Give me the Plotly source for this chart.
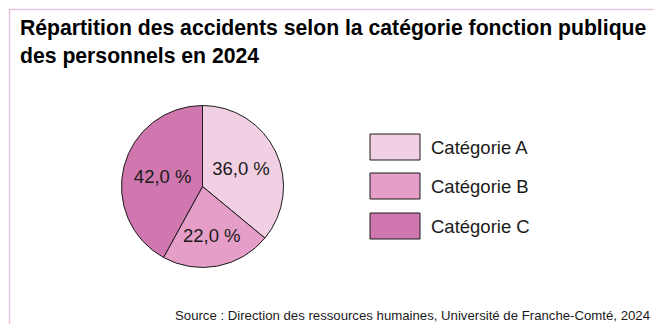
import plotly.graph_objects as go

categories = ["Catégorie A", "Catégorie B", "Catégorie C"]
values = [36.0, 22.0, 42.0]
colors = ["#f2d0e4", "#e59ec8", "#d077b0"]

title_text = "<b>Répartition des accidents selon la catégorie fonction publique<br>des personnels en 2024</b>"
source_text = "Source : Direction des ressources humaines, Université de Franche-Comté, 2024"

W, H = 654, 324
FONT = "Liberation Sans, Arial, sans-serif"

labels_txt = [f"{v:.1f} %".replace(".", ",") for v in values]

cx, cy, r = 202.5, 186.5, 81
fig = go.Figure(go.Pie(
    labels=categories, values=values, text=labels_txt, textinfo="text",
    sort=False, direction="clockwise", rotation=0,
    marker=dict(colors=colors, line=dict(color="#1a1a1a", width=1)),
    textfont=dict(family=FONT, size=18.5, color="#1a1a1a"),
    insidetextorientation="horizontal", textposition="inside",
    domain=dict(x=[(cx - r) / W, (cx + r) / W], y=[(H - cy - r) / H, (H - cy + r) / H]),
    showlegend=False, hoverinfo="label+percent",
))

shapes = [dict(type="rect", xref="paper", yref="paper",
               x0=9.5 / W, x1=1.05, y0=-0.05, y1=1 - 9.5 / H,
               line=dict(color="#e6c6df", width=1.5), fillcolor="rgba(0,0,0,0)", layer="below")]
annotations = []
leg_y = [147, 186, 226]
for cat, col, yy in zip(categories, colors, leg_y):
    shapes.append(dict(type="rect", xref="paper", yref="paper",
                       x0=370 / W, x1=420 / W, y0=(H - yy - 13) / H, y1=(H - yy + 13) / H,
                       fillcolor=col, line=dict(color="#1a1a1a", width=1)))
    annotations.append(dict(text=cat, xref="paper", yref="paper", x=429 / W, y=(H - yy) / H,
                            xanchor="left", yanchor="middle", showarrow=False,
                            font=dict(family=FONT, size=18.5, color="#1a1a1a")))

annotations.append(dict(text=title_text, xref="paper", yref="paper", x=18 / W, y=1 - 14 / H,
                        xanchor="left", yanchor="top", align="left", showarrow=False,
                        font=dict(family=FONT, size=21.2, color="#000000")))
annotations.append(dict(text=source_text, xref="paper", yref="paper", x=652 / W, y=(H - 315) / H,
                        xanchor="right", yanchor="middle", showarrow=False,
                        font=dict(family=FONT, size=13.2, color="#1a1a1a")))

fig.update_layout(width=W, height=H, margin=dict(l=0, r=0, t=0, b=0),
                  paper_bgcolor="white", plot_bgcolor="white",
                  shapes=shapes, annotations=annotations)
fig.write_html("out.html", config={"displayModeBar": False},
               post_script="document.body.style.margin='0';document.body.style.overflow='hidden';")
